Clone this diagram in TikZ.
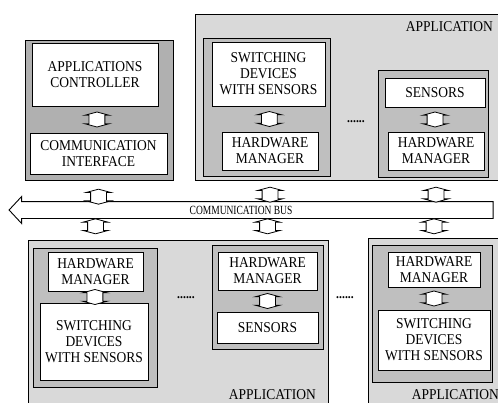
\documentclass[tikz,border=0pt]{standalone}
\usepackage{fontspec}
\setmainfont[FakeStretch=0.9]{Liberation Serif}
\newfontfamily\busfont[FakeStretch=0.76]{Liberation Serif}
\usetikzlibrary{shapes.arrows,shadows}

\begin{document}
\begin{tikzpicture}[
    x=1pt, y=-1pt,
    appbox/.style={draw=black, line width=0.8pt, fill=gray!30},
    ctrlbox/.style={draw=black, line width=0.9pt, fill=gray!62,
      drop shadow={shadow xshift=1.2pt, shadow yshift=-1.2pt, fill=black, opacity=0.8}},
    grpbox/.style={draw=black, line width=0.9pt, fill=gray!50,
      drop shadow={shadow xshift=1.2pt, shadow yshift=-1.2pt, fill=black, opacity=0.8}},
    wbox/.style={draw=black, line width=0.9pt, fill=white, align=center, inner sep=0pt,
      font=\fontsize{15}{16}\selectfont,
      drop shadow={shadow xshift=1pt, shadow yshift=-1pt, fill=black, opacity=0.9}},
    lbl/.style={font=\fontsize{15}{16}\selectfont, inner sep=0pt},
    link/.style={double arrow, rotate=90, draw=black, line width=0.8pt, fill=white,
      inner xsep=0pt, inner ysep=7.5pt, minimum height=15pt,
      double arrow head extend=4.5pt, double arrow tip angle=150},
    bus/.style={single arrow, rotate=180, draw=black, line width=0.9pt, fill=white,
      inner xsep=0pt, inner ysep=8pt, minimum height=484pt,
      single arrow head extend=5pt, single arrow tip angle=94},
    dotline/.style={font=\fontsize{13}{16}\selectfont\bfseries, inner sep=0pt}
  ]
    \useasboundingbox (0,0) rectangle (498,402);
    \clip (0,0) rectangle (498,402);
    % fondos de las aplicaciones
    \node[appbox, minimum width=325pt, minimum height=166pt] (app1) at (357.5,97)  {};
    \node[appbox, minimum width=300pt, minimum height=180pt] (appA) at (178,330)   {};
    \node[appbox, minimum width=152pt, minimum height=182pt] (appB) at (444,329)   {};
    \node[ctrlbox, minimum width=148pt, minimum height=140pt] (ctrl) at (99,110)   {};
    % grupos
    \node[grpbox, minimum width=127pt, minimum height=138pt] (g1) at (266.5,107)   {};
    \node[grpbox, minimum width=110pt, minimum height=107pt] (g2) at (433,123.5)   {};
    \node[grpbox, minimum width=124pt, minimum height=139pt] (gA) at (95,317.5)    {};
    \node[grpbox, minimum width=111pt, minimum height=104pt] (gB) at (267.5,297)   {};
    \node[grpbox, minimum width=120pt, minimum height=137pt] (gC) at (432,313.5)   {};
    % cajas blancas, fila de arriba
    \node[wbox, minimum width=126pt, minimum height=63pt] (ac)  at (95,74.5)    {APPLICATIONS\\CONTROLLER};
    \node[wbox, minimum width=137pt, minimum height=41pt] (ci)  at (98.5,153.5) {COMMUNICATION\\INTERFACE};
    \node[wbox, minimum width=113pt, minimum height=64pt] (sw1) at (268.5,74)   {SWITCHING\\DEVICES\\WITH SENSORS};
    \node[wbox, minimum width=96pt,  minimum height=38pt] (hm1) at (270,151)    {HARDWARE\\MANAGER};
    \node[wbox, minimum width=100pt, minimum height=29pt] (se1) at (435,92.5)   {SENSORS};
    \node[wbox, minimum width=96pt,  minimum height=38pt] (hm2) at (436,151)    {HARDWARE\\MANAGER};
    % cajas blancas, fila de abajo
    \node[wbox, minimum width=95pt,  minimum height=39pt] (hmA) at (95.5,271.5)  {HARDWARE\\MANAGER};
    \node[wbox, minimum width=108pt, minimum height=77pt] (swA) at (94,341.5)    {SWITCHING\\DEVICES\\WITH SENSORS};
    \node[wbox, minimum width=99pt,  minimum height=38pt] (hmB) at (267.5,271)   {HARDWARE\\MANAGER};
    \node[wbox, minimum width=101pt, minimum height=31pt] (seB) at (267.5,327.5) {SENSORS};
    \node[wbox, minimum width=92pt,  minimum height=35pt] (hmC) at (434,269.5)   {HARDWARE\\MANAGER};
    \node[wbox, minimum width=112pt, minimum height=60pt] (swC) at (434,340)     {SWITCHING\\DEVICES\\WITH SENSORS};
    % etiquetas
    \node[lbl, anchor=east] (lab1) at (493,27)  {APPLICATION};
    \node[lbl, anchor=east] (labA) at (316,395) {APPLICATION};
    \node[lbl, anchor=east] (labB) at (499,395) {APPLICATION};
    \node[dotline] (d1) at (356,122) {......};
    \node[dotline] (d2) at (186,298) {......};
    \node[dotline] (d3) at (345,298) {......};
    % bus de comunicación
    \node[bus] (bus) at (255,210) {};
    \node[font=\busfont\fontsize{12.5}{13}\selectfont, inner sep=0pt] (busl) at (241,210.5) {COMMUNICATION BUS};
    % enlaces
    \path (ac)  -- node[link] (l1) {} (ci);
    \path (sw1) -- node[link] (l2) {} (hm1);
    \path (se1.south) -- node[link] (l3) {} (se1.south |- hm2.north);
    \path (hmA) -- node[link] (l4) {} (swA);
    \path (hmB) -- node[link] (l5) {} (seB);
    \path (hmC) -- node[link] (l6) {} (swC);
    \foreach \b in {ci,hm1,hm2} {
      \path (\b.south) -- node[link] {} (\b.south |- bus.north);
    }
    \foreach \b in {hmA,hmB,hmC} {
      \path (\b.north |- bus.south) -- node[link] {} (\b.north);
    }
  \end{tikzpicture}
\end{document}
